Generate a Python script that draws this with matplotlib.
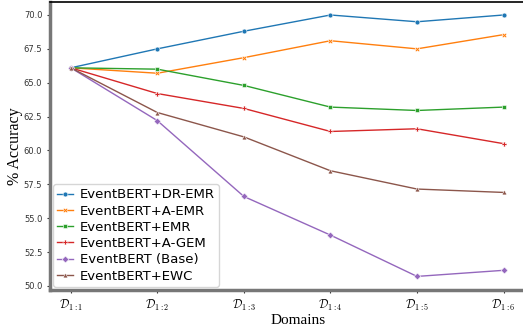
import numpy as np
import matplotlib
matplotlib.use("Agg")
import matplotlib.pyplot as plt

# data
domains = [r'$\mathcal{D}_{\mathbf{1:1}}$', r'$\mathcal{D}_{\mathbf{1:2}}$', r'$\mathcal{D}_{\mathbf{1:3}}$',
           r'$\mathcal{D}_{\mathbf{1:4}}$', r'$\mathcal{D}_{\mathbf{1:5}}$', r'$\mathcal{D}_{\mathbf{1:6}}$']
dr_emr = [66.1, 67.5, 68.8, 70.0, 69.5, 70.0]
a_emr = [66.1, 65.7, 66.85, 68.1, 67.5, 68.55]
emr = [66.1, 66.0, 64.8, 63.2, 62.95, 63.2]
a_gem = [66.1, 64.2, 63.1, 61.4, 61.6, 60.5]
base = [66.1, 62.2, 56.6, 53.75, 50.7, 51.15]
ewc = [66.1, 62.8, 61.0, 58.5, 57.15, 56.9]

series = [
    ("EventBERT+DR-EMR", dr_emr, "#1f77b4", "o"),
    ("EventBERT+A-EMR", a_emr, "#ff7f0e", "X"),
    ("EventBERT+EMR", emr, "#2ca02c", "s"),
    ("EventBERT+A-GEM", a_gem, "#d62728", "P"),
    ("EventBERT (Base)", base, "#9467bd", "D"),
    ("EventBERT+EWC", ewc, "#8c564b", "^"),
]

plt.rcParams['mathtext.fontset'] = 'cm'

fig = plt.figure(figsize=(5.23, 3.31), dpi=100)
ax = fig.add_axes([0.0956, 0.124, 0.95, 0.87])

x = np.arange(len(domains))
for nombre, vals, col, mk in series:
    ax.plot(x, vals, color=col, marker=mk, markersize=3.5, lw=1.0,
            markeredgecolor='white', markeredgewidth=0.4, label=nombre)

ax.set_xlim(-0.24, 5.5)
ax.set_ylim(49.7, 70.96)
ax.set_yticks([50.0, 52.5, 55.0, 57.5, 60.0, 62.5, 65.0, 67.5, 70.0])
ax.set_yticklabels([f"{v:.1f}" for v in ax.get_yticks()], fontsize=6, color='#333333')
ax.set_xticks(x)
ax.set_xticklabels(domains, fontsize=8.5)
ax.tick_params(axis='both', length=2.5, width=0.8, color='#333333', pad=3)

for s in ['left', 'bottom']:
    ax.spines[s].set_color('#777777')
    ax.spines[s].set_linewidth(2.5)
ax.spines['top'].set_color('black')
ax.spines['top'].set_linewidth(1.2)
ax.spines['right'].set_visible(False)

ax.set_xlabel("Domains", family='Liberation Serif', fontsize=11, labelpad=1)
ax.set_ylabel("% Accuracy", family='Liberation Serif', fontsize=11.5)
ax.yaxis.set_label_coords(-0.054, 0.5)

ax.legend(loc='lower left', fontsize=9.5, handlelength=1.2, handletextpad=0.5,
          borderpad=0.3, labelspacing=0.25, borderaxespad=0.25)

fig.savefig("out.png", dpi=100)
